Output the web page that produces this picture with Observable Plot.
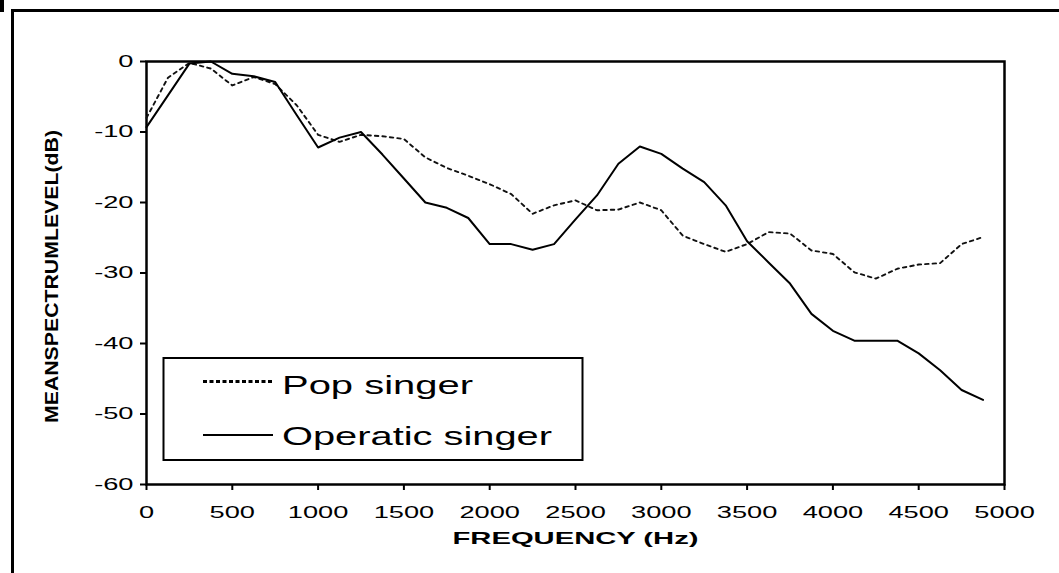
<!DOCTYPE html>
<html>
<head>
<meta charset="utf-8">
<script src="https://cdn.jsdelivr.net/npm/d3@7"></script>
<script src="https://cdn.jsdelivr.net/npm/@observablehq/plot@0.6"></script>
<style>
  body { margin: 0; background: #fff; }
  #wrap { position: relative; width: 1059px; height: 573px; overflow: hidden; background: #fff; }
  #chart { position: absolute; left: 0; top: 0; }
  #border { position: absolute; left: 11px; top: 9px; width: 1100px; height: 620px;
            border-top: 3px solid #000; border-left: 3px solid #000; pointer-events: none; }
  #mark { position: absolute; left: 0; top: 0; width: 4px; height: 12px; background: #000; }
</style>
</head>
<body>
<div id="wrap">
  <div id="chart"></div>
  <div id="border"></div>
  <div id="mark"></div>
</div>
<script>
// ---- data ----
const frequency = [0,125,250,375,500,625,750,875,1000,1125,1250,1375,1500,1625,1750,1875,
  2000,2125,2250,2375,2500,2625,2750,2875,3000,3125,3250,3375,3500,3625,3750,3875,
  4000,4125,4250,4375,4500,4625,4750,4875];
const popLevel = [-8.0,-2.3,-0.2,-1.0,-3.4,-2.2,-3.2,-6.2,-10.4,-11.4,-10.4,-10.6,-11.0,-13.6,-15.1,-16.2,
  -17.4,-18.8,-21.6,-20.4,-19.7,-21.1,-21.0,-20.0,-21.1,-24.7,-25.9,-27.0,-25.9,-24.2,-24.4,-26.8,
  -27.3,-29.9,-30.8,-29.4,-28.8,-28.6,-25.9,-24.9];
const operaticLevel = [-9.3,-4.8,-0.3,0.0,-1.75,-2.1,-2.9,-7.6,-12.2,-10.8,-10.0,-13.2,-16.6,-20.0,-20.75,-22.2,
  -25.9,-25.9,-26.7,-25.9,-22.4,-19.0,-14.5,-12.05,-13.1,-15.2,-17.1,-20.4,-25.5,-28.5,-31.5,-35.8,
  -38.2,-39.6,-39.6,-39.6,-41.4,-43.8,-46.6,-48.0];
const xTicks = [0,500,1000,1500,2000,2500,3000,3500,4000,4500,5000];
const yTicks = [0,-10,-20,-30,-40,-50,-60];
const seriesNames = ["Pop singer", "Operatic singer"];
const xLabel = "FREQUENCY (Hz)";
const yLabel = "MEANSPECTRUMLEVEL(dB)";

const pop = frequency.map((f, i) => ({f, v: popLevel[i]}));
const operatic = frequency.map((f, i) => ({f, v: operaticLevel[i]}));

const FONT = "'Liberation Sans', Arial, Helvetica, sans-serif";

const chart = Plot.plot({
  width: 1059,
  height: 573,
  marginLeft: 146,
  marginRight: 55,
  marginTop: 61,
  marginBottom: 89,
  style: {fontFamily: FONT, background: "transparent", color: "#000", overflow: "visible"},
  x: {domain: [0, 5000]},
  y: {domain: [-60, 0]},
  marks: [
    Plot.frame({stroke: "#000", strokeWidth: 2.5}),
    Plot.axisX({ticks: xTicks, tickSize: 6, tickPadding: 16, tickFormat: d => String(d),
      fontSize: 16, label: null, stroke: "#000", strokeWidth: 2, fill: "#000"}),
    Plot.axisY({ticks: yTicks, tickSize: 6, tickPadding: 7, tickFormat: d => String(d),
      fontSize: 16, label: null, stroke: "#000", strokeWidth: 2, fill: "#000"}),
    Plot.line(pop, {x: "f", y: "v", stroke: "#111", strokeWidth: 1.9, strokeDasharray: "3.5,4"}),
    Plot.line(operatic, {x: "f", y: "v", stroke: "#000", strokeWidth: 2}),
    Plot.text([xLabel], {text: d => d, frameAnchor: "bottom", textAnchor: "middle", lineAnchor: "middle",
      dy: 54, fontSize: 16.5, fontWeight: "bold", fill: "#000"}),
    Plot.text([yLabel], {text: d => d, frameAnchor: "left", textAnchor: "middle", lineAnchor: "middle",
      dx: -94, dy: 3.5, rotate: -90, fontSize: 18, fontWeight: "bold", fill: "#000"})
  ]
});

document.getElementById("chart").append(chart);
const svg = d3.select(chart);

// horizontally stretched tick labels as in the reference
svg.selectAll('g[aria-label="x-axis tick label"] text, g[aria-label="y-axis tick label"] text')
  .each(function() {
    const L = this.getComputedTextLength();
    this.setAttribute("textLength", L * 1.7);
    this.setAttribute("lengthAdjust", "spacingAndGlyphs");
  });

svg.selectAll('g[aria-label="text"] text').each(function() {
  const t = this.textContent;
  if (t === xLabel) { this.setAttribute("textLength", 246); this.setAttribute("lengthAdjust", "spacingAndGlyphs"); }
  if (t === yLabel) { this.setAttribute("textLength", 293); this.setAttribute("lengthAdjust", "spacingAndGlyphs"); }
});

// legend
const lg = svg.append("g").attr("aria-label", "legend").attr("text-anchor", "start");
lg.append("rect").attr("x", 163.5).attr("y", 358).attr("width", 419).attr("height", 102)
  .attr("fill", "#fff").attr("stroke", "#000").attr("stroke-width", 2);
const rows = [
  {name: seriesNames[0], y: 381.5, base: 394, dash: "4,2.5", w: 3, len: 191},
  {name: seriesNames[1], y: 435, base: 444.5, dash: null, w: 2, len: 270}
];
rows.forEach(r => {
  const ln = lg.append("line").attr("x1", 203).attr("x2", 273).attr("y1", r.y).attr("y2", r.y)
    .attr("stroke", "#000").attr("stroke-width", r.w);
  if (r.dash) ln.attr("stroke-dasharray", r.dash);
  lg.append("text").attr("x", 282).attr("y", r.base).attr("font-size", 26)
    .attr("text-anchor", "start")
    .attr("font-family", FONT).attr("fill", "#000")
    .attr("textLength", r.len).attr("lengthAdjust", "spacingAndGlyphs").text(r.name);
});
</script>
</body>
</html>
